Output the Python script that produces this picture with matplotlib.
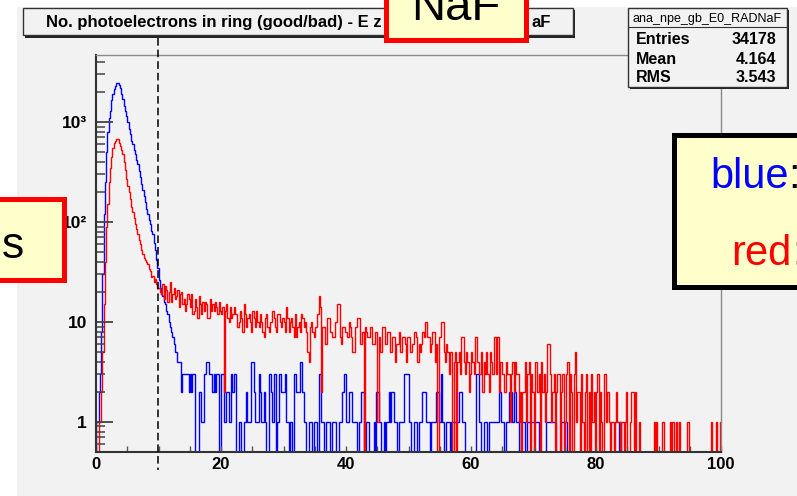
import numpy as np
import matplotlib
matplotlib.use("Agg")
import matplotlib.pyplot as plt
from matplotlib.patches import Rectangle
from matplotlib.lines import Line2D

# histogram: 500 bins of 0.2 photoelectrons between 0 and 100
x_min, x_max, n_bins = 0, 100, 500

blue_counts = [
    1, 1, 2, 3, 8, 30, 120, 250, 500, 800,
    1100, 1300, 1650, 1900, 2150, 2300, 2450, 2450, 2350, 2200,
    1900, 1700, 1450, 1300, 1150, 1000, 850, 750, 650, 600,
    520, 480, 420, 380, 320, 280, 240, 210, 180, 160,
    135, 120, 105, 95, 82, 75, 62, 52, 42, 35,
    26, 22, 19, 18, 16, 15, 13, 12, 10, 9,
    8, 7, 6, 5, 5, 4, 4, 4, 2, 3,
    3, 3, 3, 3, 2, 3, 2, 3, 3, 0,
    0, 0, 2, 2, 1, 1, 3, 3, 4, 4,
    3, 3, 3, 2, 3, 2, 3, 3, 0, 0,
    3, 3, 1, 1, 2, 2, 1, 1, 3, 2,
    3, 3, 0, 0, 1, 1, 0, 0, 1, 1,
    2, 1, 1, 1, 4, 4, 2, 1, 1, 1,
    3, 2, 1, 1, 2, 1, 0, 0, 3, 3,
    2, 1, 3, 3, 0, 1, 3, 3, 2, 2,
    2, 3, 1, 1, 0, 1, 1, 0, 3, 3,
    2, 2, 2, 4, 4, 2, 1, 1, 0, 0,
    1, 1, 1, 0, 1, 1, 1, 0, 3, 3,
    1, 1, 0, 0, 1, 1, 1, 0, 0, 1,
    1, 1, 0, 0, 1, 1, 1, 2, 3, 3,
    1, 1, 2, 2, 2, 1, 1, 1, 1, 0,
    1, 1, 2, 2, 0, 0, 1, 1, 0, 0,
    0, 0, 1, 0, 2, 2, 1, 1, 0, 0,
    1, 0, 1, 1, 2, 1, 2, 2, 1, 1,
    1, 0, 1, 1, 1, 1, 3, 3, 3, 3,
    1, 1, 0, 0, 1, 1, 1, 0, 1, 1,
    1, 2, 2, 2, 1, 1, 1, 0, 1, 1,
    1, 1, 2, 2, 1, 1, 3, 1, 0, 0,
    1, 1, 1, 0, 1, 1, 1, 1, 1, 1,
    2, 2, 2, 1, 1, 0, 0, 0, 0, 0,
    0, 0, 0, 0, 3, 3, 1, 1, 0, 0,
    1, 1, 1, 0, 1, 1, 1, 1, 1, 1,
    1, 1, 2, 2, 1, 1, 0, 0, 1, 1,
    2, 2, 2, 1, 2, 2, 1, 1, 0, 0,
    1, 1, 1, 0, 0, 1, 1, 1, 1, 1,
    1, 1, 1, 1, 0, 0, 0, 0, 0, 0,
    1, 1, 1, 1, 1, 1, 1, 1, 0, 0,
    0, 0, 1, 1, 1, 1, 1, 0, 0, 0,
    0, 0, 0, 0, 0, 0, 0, 0, 0, 0,
    0, 0, 0, 0, 0, 0, 0, 0, 0, 0,
    0, 0, 0, 0, 0, 0, 0, 0, 0, 0,
    0, 0, 0, 0, 0, 0, 0, 0, 1, 1,
    0, 0, 0, 0, 0, 0, 0, 0, 0, 0,
    0, 0, 0, 0, 0, 0, 0, 0, 0, 0,
    0, 0, 0, 0, 0, 0, 0, 0, 0, 0,
    0, 0, 0, 0, 0, 0, 0, 0, 0, 0,
    0, 0, 0, 0, 0, 0, 0, 0, 0, 0,
    0, 0, 0, 0, 0, 0, 0, 0, 0, 0,
    0, 0, 0, 0, 0, 0, 0, 0, 0, 0,
    0, 0, 0, 0, 0, 0, 0, 0, 0, 0,
]

red_counts = [
    0, 0, 1, 1, 2, 5, 15, 40, 90, 150,
    250, 350, 450, 550, 620, 650, 680, 670, 620, 580,
    520, 480, 400, 330, 270, 230, 200, 170, 140, 125,
    110, 95, 85, 75, 66, 60, 52, 48, 44, 42,
    40, 38, 34, 32, 28, 29, 25, 27, 24, 22,
    22, 20, 19, 24, 17, 23, 21, 16, 20, 25,
    16, 19, 22, 17, 18, 21, 14, 19, 20, 15,
    17, 13, 15, 19, 17, 14, 19, 12, 13, 17,
    14, 11, 18, 15, 12, 16, 13, 16, 15, 11,
    11, 17, 13, 15, 13, 16, 14, 12, 16, 13,
    12, 14, 2, 13, 15, 11, 10, 14, 11, 12,
    14, 12, 12, 9, 10, 13, 11, 8, 15, 12,
    9, 11, 12, 10, 8, 13, 11, 9, 13, 10,
    9, 12, 10, 8, 7, 11, 12, 9, 8, 10,
    10, 13, 11, 9, 8, 12, 12, 10, 9, 11,
    10, 8, 14, 11, 8, 10, 11, 9, 7, 12,
    7, 9, 10, 8, 12, 11, 9, 10, 8, 5,
    4, 9, 10, 8, 7, 9, 9, 12, 18, 14,
    2, 9, 9, 6, 6, 11, 11, 8, 8, 7,
    7, 10, 10, 15, 15, 7, 6, 9, 9, 8,
    8, 7, 10, 9, 7, 5, 5, 9, 9, 11,
    11, 6, 6, 8, 0, 9, 8, 7, 7, 9,
    9, 6, 6, 8, 8, 1, 7, 5, 5, 9,
    9, 6, 6, 8, 8, 5, 5, 7, 7, 4,
    6, 6, 8, 5, 5, 7, 7, 6, 4, 7,
    7, 5, 5, 6, 8, 8, 7, 4, 6, 5,
    6, 8, 7, 10, 10, 7, 7, 5, 6, 8,
    8, 4, 6, 0, 7, 7, 10, 10, 5, 4,
    6, 5, 3, 5, 5, 0, 4, 5, 0, 4,
    5, 3, 7, 7, 4, 3, 5, 4, 2, 3,
    5, 4, 3, 7, 7, 4, 3, 3, 5, 2,
    4, 3, 5, 3, 2, 5, 4, 3, 7, 7,
    3, 7, 2, 4, 4, 3, 2, 2, 4, 3,
    3, 1, 3, 4, 2, 4, 3, 3, 1, 2,
    0, 2, 2, 4, 1, 3, 4, 0, 3, 2,
    0, 4, 4, 2, 3, 0, 4, 2, 3, 1,
    2, 6, 6, 3, 1, 2, 3, 0, 2, 3,
    3, 0, 2, 3, 0, 1, 3, 4, 0, 3,
    2, 0, 3, 5, 1, 2, 2, 0, 3, 1,
    0, 2, 3, 0, 2, 0, 3, 1, 2, 0,
    2, 3, 0, 2, 1, 0, 3, 3, 1, 2,
    1, 0, 1, 1, 0, 1, 2, 1, 1, 0,
    1, 1, 0, 1, 2, 0, 0, 1, 2, 2,
    0, 2, 0, 0, 1, 0, 0, 0, 0, 0,
    0, 0, 0, 0, 0, 0, 1, 0, 1, 0,
    0, 0, 0, 1, 0, 0, 0, 0, 0, 1,
    0, 1, 0, 0, 1, 0, 1, 0, 0, 0,
    0, 0, 0, 1, 0, 0, 0, 0, 0, 0,
    0, 0, 0, 0, 0, 0, 0, 0, 0, 0,
    0, 0, 1, 0, 0, 0, 1, 0, 0, 1,
]

x_ticks = [0, 20, 40, 60, 80, 100]
y_ticks = [1, 10, 100, 1000]
y_tick_labels = ["1", "10", "10\u00b2", "10\u00b3"]
cut_value = 10

title_left = "No. photoelectrons in ring (good/bad) - E z"
title_right = "aF"
stats_name = "ana_npe_gb_E0_RADNaF"
stats_rows = [("Entries", "34178"), ("Mean", "4.164"), ("RMS", "3.543")]

W, H = 797, 496
GRAY = "#f2f2f2"
YELLOW = "#ffffcc"
ROOT_FONT = "Liberation Sans"


def fx(x):
    return x / W


def fy(y):
    return 1 - y / H


def box(x0, y0, x1, y1, **kw):
    # rectangle in pixel coordinates (top-left origin)
    r = Rectangle((fx(x0), fy(y1)), (x1 - x0) / W, (y1 - y0) / H,
                  transform=fig.transFigure, **kw)
    fig.add_artist(r)
    return r


fig = plt.figure(figsize=(W / 100, H / 100), dpi=100, facecolor="white")

# canvas background
box(17, 7, 800, 500, facecolor=GRAY, edgecolor="none", zorder=-5)

ax = fig.add_axes([fx(96), fy(452), 625 / W, 397 / H])
ax.set_facecolor("none")

edges = np.linspace(x_min, x_max, n_bins + 1)
blue = np.array(blue_counts, dtype=float)
red = np.array(red_counts, dtype=float)
ax.stairs(np.where(blue > 0, blue, 0.1), edges, color="#0000ff", lw=1.0, baseline=0.1)
ax.stairs(np.where(red > 0, red, 0.1), edges, color="#ff0000", lw=1.0, baseline=0.1)

ax.set_yscale("log")
ax.set_xlim(x_min, x_max)
ax.set_ylim(0.5, 10 ** 3.67)

ax.set_xticks(x_ticks)
ax.set_xticks(np.arange(0, 101, 5), minor=True)
ax.set_yticks(y_ticks)
ax.set_yticklabels(y_tick_labels)
ax.yaxis.set_minor_locator(matplotlib.ticker.LogLocator(base=10, subs=np.arange(2, 10)))
ax.yaxis.set_minor_formatter(matplotlib.ticker.NullFormatter())

for lab in ax.get_xticklabels() + ax.get_yticklabels():
    lab.set_fontfamily(ROOT_FONT)
    lab.set_fontweight("bold")
for lab in ax.get_xticklabels():
    lab.set_fontsize(12)
for lab in ax.get_yticklabels():
    lab.set_fontsize(12.5)

ax.tick_params(axis="x", which="both", direction="in", length=4.3, width=1.0,
               color="#555555", pad=3.6)
ax.tick_params(axis="y", which="major", direction="in", length=12.2, width=1.3,
               color="#444444", pad=6.5)
ax.tick_params(axis="y", which="minor", direction="in", length=6.5, width=1.1,
               color="#444444")

for side in ["left", "bottom"]:
    ax.spines[side].set_color("#333333")
    ax.spines[side].set_linewidth(1.5)
for side in ["top", "right"]:
    ax.spines[side].set_color("#8a8a8a")
    ax.spines[side].set_linewidth(1.0)

# dashed cut line, drawn across the pad
xc = 96 + 6.24 * cut_value
fig.add_artist(Line2D([fx(xc), fx(xc)], [fy(38), fy(470)], transform=fig.transFigure,
                      color="black", lw=1.1, linestyle=(0, (5, 2.6)), zorder=4))

# title pave
box(25, 10, 575, 38, facecolor="#222222", edgecolor="none", zorder=5)
box(23, 8, 573, 35, facecolor=GRAY, edgecolor="#333333", lw=1.0, zorder=5)
fig.text(fx(46.5), fy(27), title_left, fontsize=12, fontweight="bold",
         family=ROOT_FONT, va="baseline", ha="left", zorder=6)
fig.text(fx(531.5), fy(27), title_right, fontsize=12, fontweight="bold",
         family=ROOT_FONT, va="baseline", ha="left", zorder=6)

# stats pave
box(630, 10, 789, 89, facecolor="#222222", edgecolor="none", zorder=5)
box(628, 8, 787, 87, facecolor=GRAY, edgecolor="#333333", lw=1.0, zorder=5)
fig.add_artist(Line2D([fx(628), fx(787)], [fy(27), fy(27)], transform=fig.transFigure,
                      color="#333333", lw=0.8, zorder=6))
fig.text(fx(707.5), fy(22), stats_name, fontsize=9, family=ROOT_FONT,
         va="baseline", ha="center", zorder=6)
for k, (name, val) in enumerate(stats_rows):
    yb = 44.5 + 19 * k
    fig.text(fx(636), fy(yb), name, fontsize=11.5, fontweight="bold",
             family=ROOT_FONT, va="baseline", ha="left", zorder=6)
    fig.text(fx(776), fy(yb), val, fontsize=11.5, fontweight="bold",
             family=ROOT_FONT, va="baseline", ha="right", zorder=6)

# slide overlays
box(385.5, -20, 525.5, 39.5, facecolor=YELLOW, edgecolor="#ff0000", lw=3.6, zorder=8)
fig.text(fx(455.5), fy(20), "NaF", fontsize=34, family="Liberation Sans",
         va="baseline", ha="center", zorder=9)

box(-20, 198.5, 63.5, 279.5, facecolor=YELLOW, edgecolor="#ff0000", lw=3.6, zorder=8)
fig.text(fx(24), fy(258), "s", fontsize=32, family="Liberation Sans",
         va="baseline", ha="right", zorder=9)

box(673.5, 134.5, 830, 286.5, facecolor=YELLOW, edgecolor="black", lw=3.6, zorder=8)
t_blue = fig.text(fx(710), fy(188), "blue", fontsize=30, color="#0000ff",
                  family="Liberation Sans", va="baseline", ha="left", zorder=9)
t_red = fig.text(fx(731.5), fy(265), "red", fontsize=30, color="#ff0000",
                 family="Liberation Sans", va="baseline", ha="left", zorder=9)
for t in (t_blue, t_red):
    fig.add_artist(matplotlib.text.Annotation(
        ":", xy=(1, 0), xycoords=t, fontsize=30, color="black",
        family="Liberation Sans", va="bottom", ha="left", zorder=9))

fig.savefig("out.png", dpi=100, facecolor="white")
